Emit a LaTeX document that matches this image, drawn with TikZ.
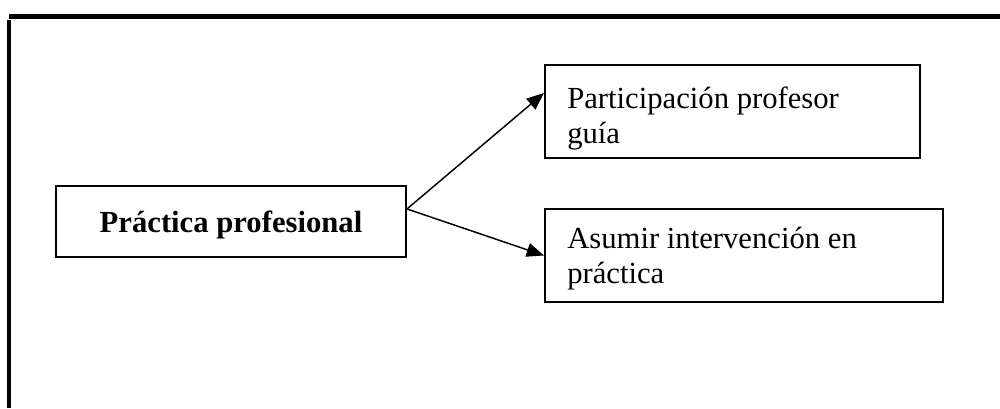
\documentclass[tikz,border=0pt]{standalone}
\usepackage{fontspec}
\setmainfont{Liberation Serif}
\usetikzlibrary{arrows.meta}
\begin{document}
\begin{tikzpicture}[x=0.75pt,y=-0.75pt,
  box/.style={draw,line width=1.5pt,rectangle,inner sep=0pt},
  lbl/.style={anchor=base west,inner sep=0pt,align=left,font=\fontsize{23}{26.25}\selectfont},
  link/.style={line width=1.1pt,-{Triangle[length=13pt,width=10.5pt]}},
  rule/.style={line width=3.4pt}]
\useasboundingbox (0,0) rectangle (1000,408);
% page rules
\draw[rule] (9,16.3) -- (1000,16.3);
\draw[rule,line width=3pt] (9,20) -- (9,408);
% boxes
\node[box, minimum width=262.5pt, minimum height=53.25pt, text height=15.75pt, text depth=0pt,
      font=\bfseries\fontsize{23}{26.25}\selectfont] (pp) at (231,221.5) {Práctica profesional};
\node[box, minimum width=281.25pt, minimum height=69.75pt] (pg) at (732.5,111.5) {};
\node[box, minimum width=298.5pt, minimum height=69.75pt] (ai) at (744,255.5) {};
% box texts (base anchor sits on the last line)
\node[lbl] (pgt) at (567,143) {Participación profesor\\guía};
\node[lbl] (ait) at (567,283) {Asumir intervención en\\práctica};
% connectors
\draw[link] ([yshift=9.4pt]pp.east) -- ([yshift=13.9pt]pg.west);
\draw[link] ([yshift=9.4pt]pp.east) -- (ai.west);
\end{tikzpicture}
\end{document}
